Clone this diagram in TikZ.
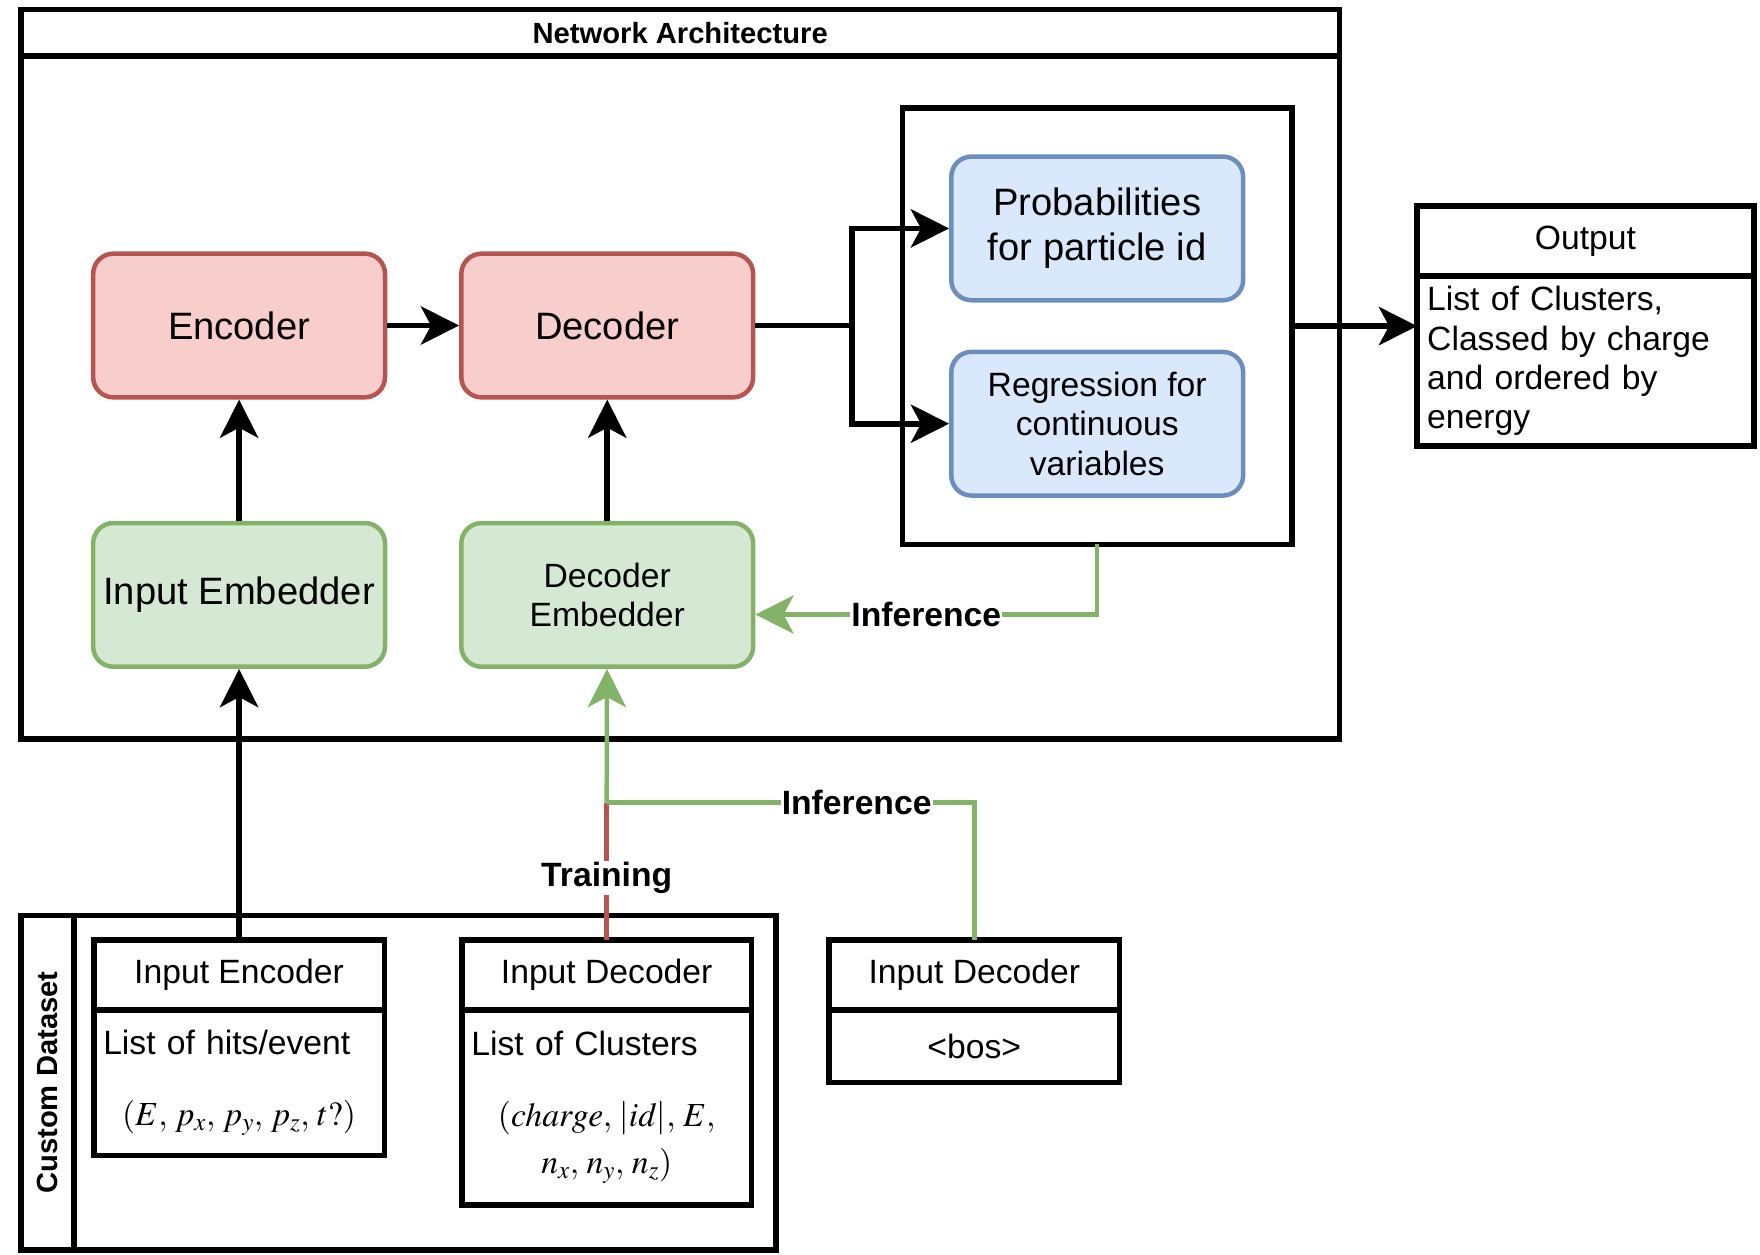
\documentclass[tikz,border=0pt]{standalone}
\usepackage{mathptmx}
\usepackage{fontspec}
\setmainfont{Liberation Sans}
\usepackage{tikz}
\usetikzlibrary{arrows.meta,positioning,fit}
\definecolor{redfill}{HTML}{F8CECC}
\definecolor{redline}{HTML}{B85450}
\definecolor{greenfill}{HTML}{D5E8D4}
\definecolor{greenline}{HTML}{82B366}
\definecolor{bluefill}{HTML}{DAE8FC}
\definecolor{blueline}{HTML}{6C8EBF}
\newcommand{\bigtxt}{\fontsize{34}{40}\selectfont}
\newcommand{\midtxt}{\fontsize{30}{35}\selectfont}
\newcommand{\hdtxt}{\fontsize{26}{30}\selectfont\bfseries}
\tikzset{
  nnbox/.style={rounded corners=18pt, line width=4pt, align=center, inner sep=0pt, minimum width=260pt, minimum height=128pt},
  encbox/.style={nnbox, draw=redline, fill=redfill, font=\bigtxt},
  embbox/.style={nnbox, draw=greenline, fill=greenfill},
  headbox/.style={nnbox, draw=blueline, fill=bluefill},
  blkbox/.style={draw=black, line width=5pt, outer sep=0pt, inner sep=0pt},
  tabhead/.style={blkbox, font=\midtxt, minimum height=62.5pt},
  tabbody/.style={blkbox, font=\midtxt, inner sep=8.5pt, align=left},
  flow/.style={-{Stealth[length=34pt,width=34pt,inset=9pt]}, line width=5pt},
  gflow/.style={-{Stealth[length=34pt,width=34pt,inset=9pt]}, line width=4pt, draw=greenline},
  gline/.style={line width=4pt, draw=greenline},
  rline/.style={line width=4pt, draw=redline},
  tag/.style={fill=white, font=\midtxt\bfseries, inner sep=1pt}
}

\begin{document}
\begin{tikzpicture}[x=1pt, y=-1pt, node distance=64pt]
  \useasboundingbox (0,0) rectangle (1568,1118);
  \fill[white] (0,0) rectangle (1568,1118);
  \node[blkbox, font=\hdtxt, minimum width=1175pt, minimum height=41.5pt] (nettitle) at (606,29.25) {Network Architecture};
  \node[blkbox, minimum width=1175pt, minimum height=608.5pt, below=0pt of nettitle] (netbody) {};
  \node[encbox] (encoder) at (213,290) {Encoder};
  \node[encbox, right=of encoder] (decoder) {Decoder};
  \node[embbox, font=\bigtxt, below=108pt of encoder] (inemb) {Input Embedder};
  \node[embbox, font=\midtxt, below=108pt of decoder] (decemb) {Decoder\\Embedder};
  \node[headbox, font=\bigtxt] (probs) at (977.5,203.5) {Probabilities\\for particle id};
  \node[headbox, font=\midtxt, below=42pt of probs] (regress) {Regression for\\continuous\\variables};
  \node[blkbox, fit=(probs)(regress), inner sep=41.5pt] (heads) {};
  \node[tabhead, minimum width=300pt] (outhead) at (1412.5,214.75) {Output};
  \node[tabbody, text width=282pt, minimum height=151.5pt, inner sep=9pt, below=0pt of outhead] (outbody) {List of Clusters,\\Classed by charge\\and ordered by\\energy};
  \node[blkbox, font=\hdtxt, rotate=90, minimum width=298pt, minimum height=47.5pt] (dstitle) at (42.25,964.5) {Custom Dataset};
  \node[blkbox, minimum width=625.5pt, minimum height=298pt] (dsbody) at (378.75,964.5) {};
  \node[tabhead, minimum width=259pt] (inenchead) at (213,868.75) {Input Encoder};
  \node[tabbody, text width=242pt, minimum height=129.5pt, below=0pt of inenchead] (inencbody) {List of hits/event\par\vspace{28pt}\centerline{$(E,\,p_x,\,p_y,\,p_z,\,t?)$}};
  \node[tabhead, minimum width=258pt] (indechead) at (540.5,868.75) {Input Decoder};
  \node[tabbody, text width=241pt, minimum height=173.5pt, below=0pt of indechead] (indecbody) {List of Clusters\par\vspace{28pt}\centerline{$(charge,\,|id|,\,E,$}\par\vspace{7pt}\centerline{$n_x,\,n_y,\,n_z)$}};
  \node[tabhead, minimum width=259pt] (boshead) at (868,868.75) {Input Decoder};
  \node[tabhead, minimum width=259pt, minimum height=64.5pt, below=0pt of boshead] (bosbody) {<bos>};
  \coordinate (trainjoin) at (540.5,715);
  \draw[flow] (encoder) -- (decoder);
  \draw[flow] (inemb) -- (encoder);
  \draw[flow] (decemb) -- (decoder);
  \draw[flow] (inenchead) -- (inemb);
  \draw[flow] (decoder.east) -- ++(86,0) |- (probs.west);
  \draw[flow] (decoder.east) -- ++(86,0) |- (regress.west);
  \draw[flow] (heads) -- (heads -| outbody.west);
  \draw[rline] (indechead) -- node[tag, pos=0.45] {Training} (trainjoin);
  \draw[gline] (boshead) |- node[tag, pos=0.66] {Inference} (trainjoin);
  \draw[gflow] (trainjoin) -- (decemb);
  \draw[gflow] (heads) |- node[tag, pos=0.75] {Inference} ([yshift=-17.5pt]decemb.east);
\end{tikzpicture}
\end{document}
